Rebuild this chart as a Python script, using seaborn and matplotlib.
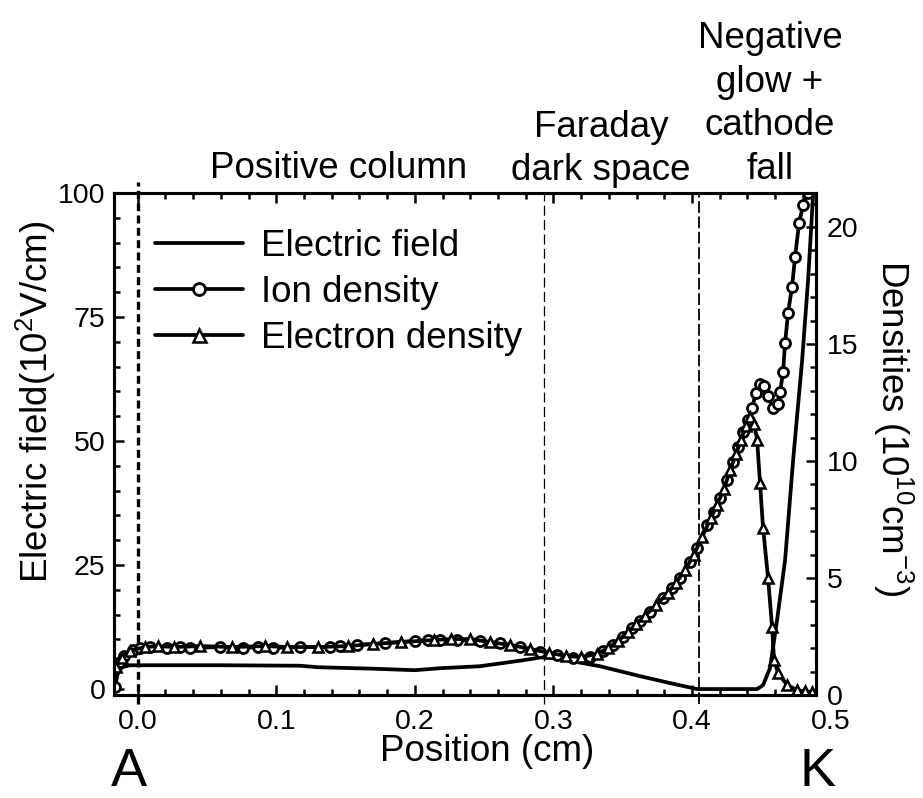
import matplotlib
matplotlib.use("Agg")
import matplotlib.pyplot as plt
from matplotlib.ticker import FixedLocator, MultipleLocator
from matplotlib.transforms import blended_transform_factory
import seaborn as sns

# Axial electric field (10^2 V/cm) across the discharge gap, position in cm
field_pos = [-0.0164, -0.0150, -0.0114, -0.0056, 0.0017, 0.0600, 0.1171, 0.1300,
             0.1700, 0.2000, 0.2183, 0.2470, 0.2780, 0.2925, 0.3048, 0.3336,
             0.3625, 0.3842, 0.4036, 0.4296, 0.4470, 0.4513, 0.4563, 0.4614,
             0.4672, 0.4730, 0.4795, 0.4838, 0.4874]
field_val = [0.4, 2.8, 4.4, 4.8, 4.8, 4.8, 4.7, 4.4,
             4.1, 3.8, 4.2, 4.6, 5.8, 6.45, 6.05, 4.6,
             2.6, 1.2, 0.0, 0.0, 0.0, 0.8, 4.2, 13.9,
             26.0, 46.2, 66.3, 82.5, 99.6]

# Ion density (10^10 cm^-3)
ion_pos = [-0.0164, -0.0128, -0.0099, -0.0034, 0.0017, 0.0089, 0.0211, 0.0305,
           0.0377, 0.0594, 0.0760, 0.0868, 0.0976, 0.1171, 0.1389, 0.1460,
           0.1583, 0.1785, 0.2001, 0.2095, 0.2182, 0.2304, 0.2470, 0.2615,
           0.2759, 0.2904, 0.3026, 0.3142, 0.3265, 0.3358, 0.3431, 0.3503,
           0.3568, 0.3625, 0.3697, 0.3791, 0.3856, 0.3914, 0.3986, 0.4036,
           0.4108, 0.4159, 0.4202, 0.4253, 0.4296, 0.4332, 0.4368, 0.4405,
           0.4433, 0.4462, 0.4491, 0.4520, 0.4549, 0.4585, 0.4621, 0.4636,
           0.4657, 0.4672, 0.4693, 0.4722, 0.4744, 0.4773, 0.4802, 0.4838]
ion_val = [0.34, 1.41, 1.67, 1.92, 2.01, 2.05, 2.01, 2.05,
           2.01, 2.05, 2.01, 2.05, 2.01, 2.05, 2.05, 2.09,
           2.14, 2.22, 2.31, 2.35, 2.35, 2.35, 2.31, 2.22,
           2.05, 1.84, 1.71, 1.58, 1.62, 1.88, 2.14, 2.48,
           2.86, 3.16, 3.55, 4.15, 4.57, 5.00, 5.68, 6.28,
           7.26, 7.82, 8.42, 9.19, 9.96, 10.60, 11.24, 11.75,
           12.26, 12.91, 13.29, 13.21, 12.78, 12.26, 12.44, 12.95,
           13.80, 15.04, 16.32, 17.44, 18.72, 20.17, 20.94, 21.45]

# Electron density (10^10 cm^-3)
elec_pos = [-0.0157, -0.0114, -0.0056, 0.0053, 0.0150, 0.0260, 0.0450, 0.0680,
            0.0920, 0.1080, 0.1300, 0.1520, 0.1700, 0.1900, 0.2140, 0.2260,
            0.2400, 0.2540, 0.2690, 0.2830, 0.2970, 0.3090, 0.3200, 0.3315,
            0.3394, 0.3467, 0.3539, 0.3597, 0.3661, 0.3741, 0.3827, 0.3885,
            0.3950, 0.4015, 0.4072, 0.4137, 0.4180, 0.4231, 0.4275, 0.4318,
            0.4354, 0.4390, 0.4419, 0.4448, 0.4470, 0.4491, 0.4513, 0.4549,
            0.4578, 0.4592, 0.4621, 0.4686, 0.4758, 0.4816, 0.4867]
elec_val = [1.2, 1.6, 1.9, 2.05, 2.09, 2.05, 2.09, 2.05,
            2.09, 2.05, 2.05, 2.09, 2.18, 2.26, 2.35, 2.39,
            2.39, 2.26, 2.14, 1.97, 1.80, 1.67, 1.62, 1.75,
            2.01, 2.31, 2.69, 3.03, 3.38, 3.85, 4.36, 4.79,
            5.34, 6.00, 6.75, 7.56, 8.12, 8.80, 9.60, 10.30,
            10.90, 11.50, 11.90, 11.60, 10.90, 9.06, 7.14, 5.00,
            2.90, 1.50, 0.94, 0.43, 0.21, 0.15, 0.13]

# Discharge regions
region_bounds = [0.0, 0.293, 0.405]
region_names = ["Positive column", "Faraday\ndark space", "Negative\nglow +\ncathode\nfall"]

x_ticks = [0.0, 0.1, 0.2, 0.3, 0.4]
x_tick_labels = ["0.0", "0.1", "0.2", "0.3", "0.4"]
x_end_label = "0.5"
field_ticks = [0, 25, 50, 75, 100]
density_ticks = [0, 5, 10, 15, 20]

sns.set_theme(style="white")
plt.rcParams["font.family"] = ["Liberation Sans", "DejaVu Sans"]
plt.rcParams["mathtext.fontset"] = "custom"
plt.rcParams["mathtext.rm"] = "Liberation Sans"
plt.rcParams["mathtext.default"] = "regular"
for key in ("text.color", "axes.labelcolor", "xtick.color", "ytick.color", "axes.edgecolor"):
    plt.rcParams[key] = "black"

W, H = 923, 798
fig = plt.figure(figsize=(W / 100, H / 100), dpi=100)
ax = fig.add_axes([114 / W, 103 / H, 702 / W, 502 / H])
ax2 = ax.twinx()

LW = 2.7
sns.lineplot(x=field_pos, y=field_val, ax=ax, color="black", lw=LW, sort=False,
             label="Electric field", legend=False)
sns.lineplot(x=ion_pos, y=ion_val, ax=ax2, color="black", lw=LW, sort=False,
             marker="o", ms=7.2, mfc="white", mec="black", mew=2.0,
             label="Ion density", legend=False)
sns.lineplot(x=elec_pos, y=elec_val, ax=ax2, color="black", lw=LW, sort=False,
             marker="^", ms=7.8, mfc="white", mec="black", mew=1.8,
             label="Electron density", legend=False)

ax.set_xlim(-0.0171, 0.4895)
ax.set_ylim(-1.2, 100)
ax2.set_ylim(0, 21.45)

# Region boundaries
bound_styles = [dict(lw=2.4, dashes=(2.4, 1.3)),
                dict(lw=0.9, dashes=(8, 3.5)),
                dict(lw=1.3, dashes=(6.5, 2))]
bound_extent = [(-0.017, 1.022), (-0.017, 1.0), (-0.017, 1.0)]
for xb, st, (y0, y1) in zip(region_bounds, bound_styles, bound_extent):
    ax.axvline(xb, ymin=y0, ymax=y1, color="black", clip_on=False, **st)

# Axes and ticks
for a in (ax, ax2):
    for sp in a.spines.values():
        sp.set_linewidth(2.2)
        sp.set_color("black")
ax.xaxis.set_major_locator(FixedLocator(x_ticks))
ax.set_xticklabels(x_tick_labels)
ax.xaxis.set_minor_locator(MultipleLocator(0.02))
ax.yaxis.set_major_locator(FixedLocator(field_ticks))
ax.yaxis.set_minor_locator(MultipleLocator(5))
ax2.yaxis.set_major_locator(FixedLocator(density_ticks))
ax2.yaxis.set_minor_locator(MultipleLocator(1))

ax.tick_params(axis="both", which="both", direction="in", colors="black",
               top=True, right=False, left=True, bottom=True, labelsize=20.5)
ax.tick_params(axis="both", which="major", length=7.5, width=1.8)
ax.tick_params(axis="both", which="minor", length=4.5, width=1.8)
ax.tick_params(axis="x", pad=10)
ax.tick_params(axis="y", pad=6)
ax2.tick_params(axis="y", which="both", direction="in", colors="black",
                right=True, left=False, labelsize=20.5, pad=8)
ax2.tick_params(axis="y", which="major", length=7.5, width=1.8)
ax2.tick_params(axis="y", which="minor", length=4.5, width=1.8)

xt = blended_transform_factory(ax.transData, ax.transAxes)
ax.text(0.5, -0.054, x_end_label, transform=xt, ha="center", va="center",
        fontsize=20.5, color="black")

# Axis titles
LAB = 26.5
ax.set_xlabel("Position (cm)", fontsize=LAB, color="black", va="center")
ax.xaxis.set_label_coords(0.531, -0.112)
ax.set_ylabel("Electric field(10$^{2}$V/cm)", fontsize=LAB, color="black", va="center")
ax.yaxis.set_label_coords(-0.111, 0.584)
ax2.set_ylabel("Densities (10$^{10}$cm$^{-3}$)", fontsize=LAB, color="black",
               rotation=-90, va="center")
ax2.yaxis.set_label_coords(1.1097, 0.532)

# Legend
handles = ax.get_lines()[:1] + ax2.get_lines()[:2]
labels = [h.get_label() for h in handles]
ax2.legend(handles, labels, loc="upper left", bbox_to_anchor=(0.058, 0.929),
           frameon=False, fontsize=LAB, handlelength=2.4, handletextpad=0.5,
           labelspacing=0.30, borderpad=0, borderaxespad=0, numpoints=1,
           markerscale=1.2, labelcolor="black")

# Region names above the plot
name_pos = [(339, 168), (601, 149), (770, 104)]
for name, (px, py) in zip(region_names, name_pos):
    fig.text(px / W, 1 - py / H, name, fontsize=LAB, ha="center", va="center",
             multialignment="center", linespacing=1.33, color="black")

# Electrode markers: anode and cathode
fig.text(129 / W, 12 / H, "A", fontsize=39, ha="center", va="baseline", color="black")
fig.text(818 / W, 12 / H, "K", fontsize=39, ha="center", va="baseline", color="black")

fig.savefig("out.png", dpi=100, facecolor="white")
